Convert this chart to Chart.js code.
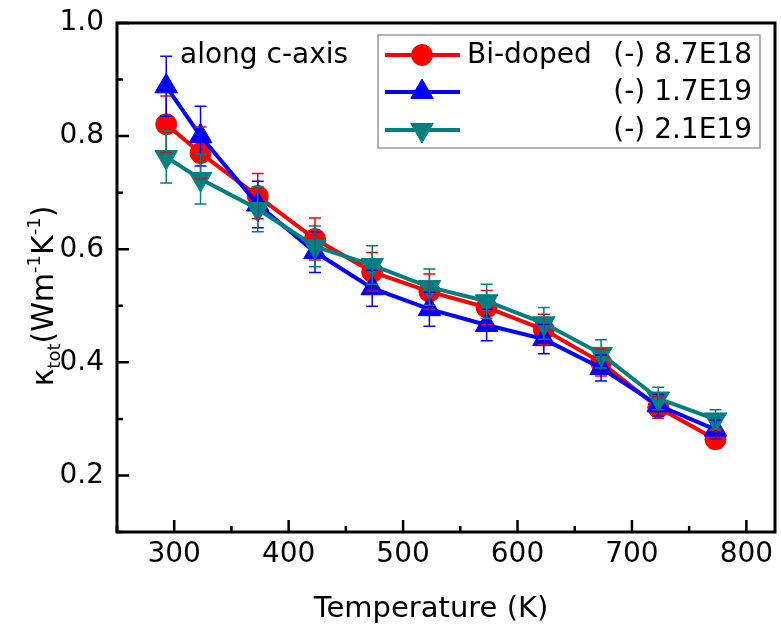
<!DOCTYPE html>
<html>
<head>
<meta charset="utf-8">
<script src="https://cdn.jsdelivr.net/npm/chart.js@4.4.0/dist/chart.umd.min.js"></script>
<style>
  html, body { margin: 0; padding: 0; background: #fff; }
</style>
</head>
<body>
<canvas id="chart" width="781" height="626"></canvas>
<script>
// temperature points (K)
const temps = [293, 323, 373, 423, 473, 523, 573, 623, 673, 723, 773];

// kappa_tot values
const kappa87 = [0.821, 0.770, 0.694, 0.618, 0.560, 0.525, 0.497, 0.458, 0.400, 0.320, 0.264];
const kappa17 = [0.888, 0.800, 0.679, 0.595, 0.531, 0.494, 0.466, 0.441, 0.390, 0.324, 0.281];
const kappa21 = [0.763, 0.724, 0.671, 0.605, 0.572, 0.533, 0.508, 0.469, 0.415, 0.336, 0.299];

// half length of the error bars
const err87 = [0.050, 0.046, 0.040, 0.037, 0.034, 0.031, 0.030, 0.027, 0.024, 0.019, 0.016];
const err17 = [0.053, 0.053, 0.041, 0.036, 0.032, 0.030, 0.028, 0.026, 0.023, 0.019, 0.017];
const err21 = [0.046, 0.044, 0.040, 0.036, 0.034, 0.032, 0.030, 0.028, 0.025, 0.020, 0.017];

const seriesNames = ['(-) 8.7E18', '(-) 1.7E19', '(-) 2.1E19'];
const xTicks = [300, 400, 500, 600, 700, 800];
const xMinor = [250, 350, 450, 550, 650, 750];
const yTicks = [0.2, 0.4, 0.6, 0.8, 1.0];
const yMinor = [0.1, 0.3, 0.5, 0.7, 0.9];

const FONT = '"DejaVu Sans", sans-serif';
const errors = [err87, err17, err21];

function points(vals) {
  return temps.map((t, i) => ({ x: t, y: vals[i] }));
}

function series(label, vals, color, style, rot, radius, order) {
  return {
    label: label,
    data: points(vals),
    showLine: true,
    borderColor: color,
    backgroundColor: color,
    borderWidth: 4,
    pointStyle: style,
    pointRotation: rot,
    pointRadius: radius,
    pointBorderWidth: 1,
    pointBorderColor: color,
    order: order
  };
}

const decor = {
  id: 'decor',
  afterDatasetsDraw(chart) {
    const ctx = chart.ctx;
    const a = chart.chartArea;
    const x = chart.scales.x, y = chart.scales.y;
    ctx.save();

    // error bars
    chart.data.datasets.forEach((ds, i) => {
      const errs = errors[i];
      ctx.strokeStyle = ds.borderColor;
      ctx.lineWidth = 1.5;
      ds.data.forEach((p, j) => {
        const px = x.getPixelForValue(p.x);
        const top = y.getPixelForValue(p.y + errs[j]);
        const bot = y.getPixelForValue(p.y - errs[j]);
        ctx.beginPath();
        ctx.moveTo(px, top); ctx.lineTo(px, bot);
        ctx.moveTo(px - 6, top); ctx.lineTo(px + 6, top);
        ctx.moveTo(px - 6, bot); ctx.lineTo(px + 6, bot);
        ctx.stroke();
      });
    });

    // frame and inward ticks
    ctx.strokeStyle = '#000';
    ctx.lineWidth = 3;
    ctx.strokeRect(a.left, a.top, a.right - a.left, a.bottom - a.top);
    ctx.lineWidth = 2.5;
    ctx.beginPath();
    xTicks.forEach(v => { const px = x.getPixelForValue(v); ctx.moveTo(px, a.bottom); ctx.lineTo(px, a.bottom - 12); });
    xMinor.forEach(v => { const px = x.getPixelForValue(v); ctx.moveTo(px, a.bottom); ctx.lineTo(px, a.bottom - 6); });
    yTicks.forEach(v => { const py = y.getPixelForValue(v); ctx.moveTo(a.left, py); ctx.lineTo(a.left + 12, py); });
    yMinor.forEach(v => { const py = y.getPixelForValue(v); ctx.moveTo(a.left, py); ctx.lineTo(a.left + 6, py); });
    ctx.stroke();

    // note in the corner
    ctx.fillStyle = '#000';
    ctx.font = '28px ' + FONT;
    ctx.textBaseline = 'alphabetic';
    ctx.textAlign = 'left';
    ctx.fillText('along c-axis', 180, 63);

    // x axis title
    ctx.font = '29px ' + FONT;
    ctx.textAlign = 'center';
    ctx.fillText('Temperature (K)', 431, 617);

    // legend
    ctx.strokeStyle = '#999';
    ctx.lineWidth = 1.5;
    ctx.strokeRect(378, 35, 382, 113);
    const rows = [55, 92, 130];
    chart.data.datasets.forEach((ds, i) => {
      const ry = rows[i];
      ctx.strokeStyle = ds.borderColor;
      ctx.lineWidth = 4;
      ctx.beginPath(); ctx.moveTo(385, ry); ctx.lineTo(460, ry); ctx.stroke();
      ctx.fillStyle = ds.backgroundColor;
      ctx.lineWidth = 1;
      Chart.helpers.drawPoint(ctx, {
        pointStyle: ds.pointStyle, rotation: ds.pointRotation,
        radius: ds.pointRadius, borderWidth: 1
      }, 422, ry);
      ctx.fillStyle = '#000';
      ctx.font = '28px ' + FONT;
      ctx.textBaseline = 'middle';
      ctx.textAlign = 'right';
      ctx.fillText(seriesNames[i], 752, ry + 1);
    });
    ctx.textAlign = 'left';
    ctx.fillText('Bi-doped', 467, rows[0] + 1);

    // y axis title with sub- and superscripts
    const big = '30px ' + FONT, small = '18px ' + FONT;
    const parts = [
      ['\u03ba', big, 0], ['tot', small, 7], ['(Wm', big, 0], ['-1', small, -13],
      ['K', big, 0], ['-1', small, -13], [')', big, 0]
    ];
    let total = 0;
    parts.forEach(p => { ctx.font = p[1]; total += ctx.measureText(p[0]).width; });
    ctx.translate(53, 296);
    ctx.rotate(-Math.PI / 2);
    ctx.textBaseline = 'alphabetic';
    ctx.textAlign = 'left';
    let cx = -total / 2;
    parts.forEach(p => {
      ctx.font = p[1];
      ctx.fillText(p[0], cx, p[2]);
      cx += ctx.measureText(p[0]).width;
    });
    ctx.restore();
  }
};

new Chart(document.getElementById('chart'), {
  type: 'scatter',
  data: {
    datasets: [
      series(seriesNames[0], kappa87, '#ff0000', 'circle', 0, 10.5, 3),
      series(seriesNames[1], kappa17, '#0000ff', 'triangle', 0, 13, 2),
      series(seriesNames[2], kappa21, '#008080', 'triangle', 180, 13, 1)
    ]
  },
  options: {
    responsive: false,
    animation: false,
    layout: { autoPadding: false, padding: { left: 0, right: 6, top: 23, bottom: 0 } },
    plugins: { legend: { display: false }, tooltip: { enabled: false } },
    scales: {
      x: {
        type: 'linear',
        min: 250,
        max: 825,
        afterBuildTicks: s => { s.ticks = xTicks.map(v => ({ value: v })); },
        afterFit: s => { s.height = 94; s.paddingLeft = 0; s.paddingRight = 0; },
        grid: { display: false, drawTicks: false },
        border: { display: false },
        ticks: { color: '#000', font: { family: FONT, size: 28 }, padding: 6, maxRotation: 0 }
      },
      y: {
        min: 0.1,
        max: 1.0,
        afterBuildTicks: s => { s.ticks = yTicks.map(v => ({ value: v })); },
        afterFit: s => { s.width = 117; s.paddingTop = 0; s.paddingBottom = 0; },
        grid: { display: false, drawTicks: false },
        border: { display: false },
        ticks: {
          color: '#000', font: { family: FONT, size: 28 }, padding: 13,
          callback: v => v.toFixed(1)
        }
      }
    }
  },
  plugins: [decor]
});
</script>
</body>
</html>
